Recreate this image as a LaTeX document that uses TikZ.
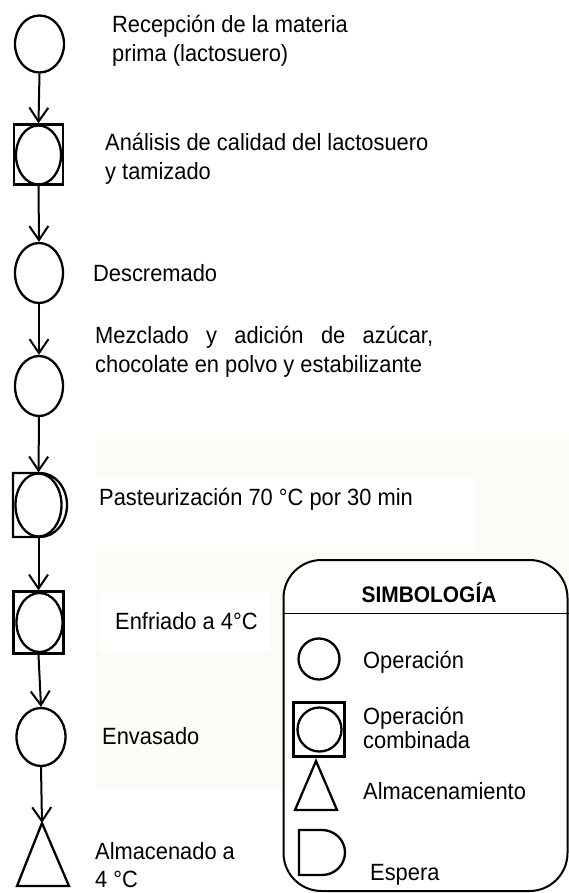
\documentclass[tikz,border=0pt]{standalone}
\usepackage{fontspec}
\setmainfont{Liberation Sans}[FakeStretch=0.93]
\usetikzlibrary{shapes.geometric,arrows.meta}
\definecolor{wmark}{RGB}{252,251,246}
\begin{document}
\begin{tikzpicture}[x=1pt,y=-1pt,
  shp/.style={draw, line width=2.3pt},
  op/.style={shp, ellipse, inner sep=0pt},
  sq/.style={shp, rectangle, inner sep=0pt},
  flow/.style={line width=2pt, -{Straight Barb[length=14pt,width=19pt]}},
  lbl/.style={anchor=west, inner sep=0pt, align=left, font=\fontsize{23.5}{28.5}\selectfont},
  lbltight/.style={lbl, font=\fontsize{23.5}{23.5}\selectfont}]
\useasboundingbox (0,0) rectangle (569,893);

% faint background watermark
\fill[wmark] (96,440) rectangle (569,790);
\fill[white] (95,478) rectangle (475,552);
\fill[white] (100,593) rectangle (270,652);

% ---- flow shapes ----
\node[op, minimum width=49pt, minimum height=57pt] (c1) at (39.5,44) {};
\node[sq, minimum width=49pt, minimum height=60pt] (s1) at (38.5,154.5) {};
\node[op, minimum width=45pt, minimum height=59pt] (e1) at (38.5,155) {};
\node[op, minimum width=48pt, minimum height=60pt] (c3) at (39,273) {};
\node[op, minimum width=48pt, minimum height=60pt] (c4) at (39,386) {};
% pasteurization (D + operation)
\draw[shp] (13,473) -- (40,473) arc[start angle=-90, end angle=90, x radius=27, y radius=32] -- (13,537) -- cycle;
\node[op, minimum width=46pt, minimum height=63pt] (p5) at (38.5,505) {};
\node[sq, minimum width=50pt, minimum height=62pt] (s2) at (38.5,622.5) {};
\node[op, minimum width=46pt, minimum height=59pt] (e2) at (39.5,622.5) {};
\node[op, minimum width=49pt, minimum height=58pt] (c7) at (41,737) {};
\coordinate (t8) at (42,823);
\draw[shp, line join=miter] (t8) -- (17,886) -- (69,886) -- cycle;

% ---- connectors ----
\draw[flow] (c1.south) -- (s1.north);
\draw[flow] (s1.south) -- (c3.north);
\draw[flow] (c3.south) -- (c4.north);
\draw[flow] (c4.south) -- (p5.north);
\draw[flow] (p5.south) -- (s2.north);
\draw[flow] (s2.south) -- (c7.north);
\draw[flow] (c7.south) -- (t8);

% ---- flow labels ----
\node[lbl] (l1) at (112,41) {Recepción de la materia\\prima (lactosuero)};
\node[lbl] (l2) at (105,159) {Análisis de calidad del lactosuero\\y tamizado};
\node[lbl] (l3) at (93,273) {Descremado};
\node[lbl] (l4) at (95,352) {\makebox[338pt][s]{Mezclado y adición de azúcar,}\\chocolate en polvo y estabilizante};
\node[lbl] (l5) at (99,499) {Pasteurización 70 °C por 30 min};
\node[lbl] (l6) at (115,621) {Enfriado a 4°C};
\node[lbl] (l7) at (102,736) {Envasado};
\node[lbl] (l8) at (95,865) {Almacenado a\\4 °C};

% ---- legend ----
\node[draw, line width=2pt, rectangle, rounded corners=38pt, fill=white, minimum width=284pt, minimum height=331pt, inner sep=0pt] (leg) at (425.5,725.5) {};
\draw[line width=1pt] (leg.west |- 0,613) -- (leg.east |- 0,613);
\node[inner sep=0pt, font=\fontsize{22.5}{24}\selectfont\bfseries] (lt) at (429,593) {SIMBOLOGÍA};

\node[op, minimum width=41pt, minimum height=41pt] (lc) at (319,659) {};
\node[lbl] (lo) at (363,662) {Operación};

\node[sq, minimum width=51pt, minimum height=54pt] (ls) at (319,729.5) {};
\node[op, minimum width=44pt, minimum height=44pt] (lse) at (319.5,729.5) {};
\node[lbltight] (loc) at (363,728) {Operación\\combinada};

\coordinate (lta) at (316,761);
\draw[shp, line join=miter] (lta) -- (295,810) -- (337,810) -- cycle;
\node[lbl] (la) at (363,791) {Almacenamiento};

\draw[shp] (299,830) -- (322,830) arc[start angle=-90, end angle=90, x radius=23, y radius=22.5] -- (299,875) -- cycle;
\node[lbl] (le) at (370,875) {Espera};
\end{tikzpicture}
\end{document}
